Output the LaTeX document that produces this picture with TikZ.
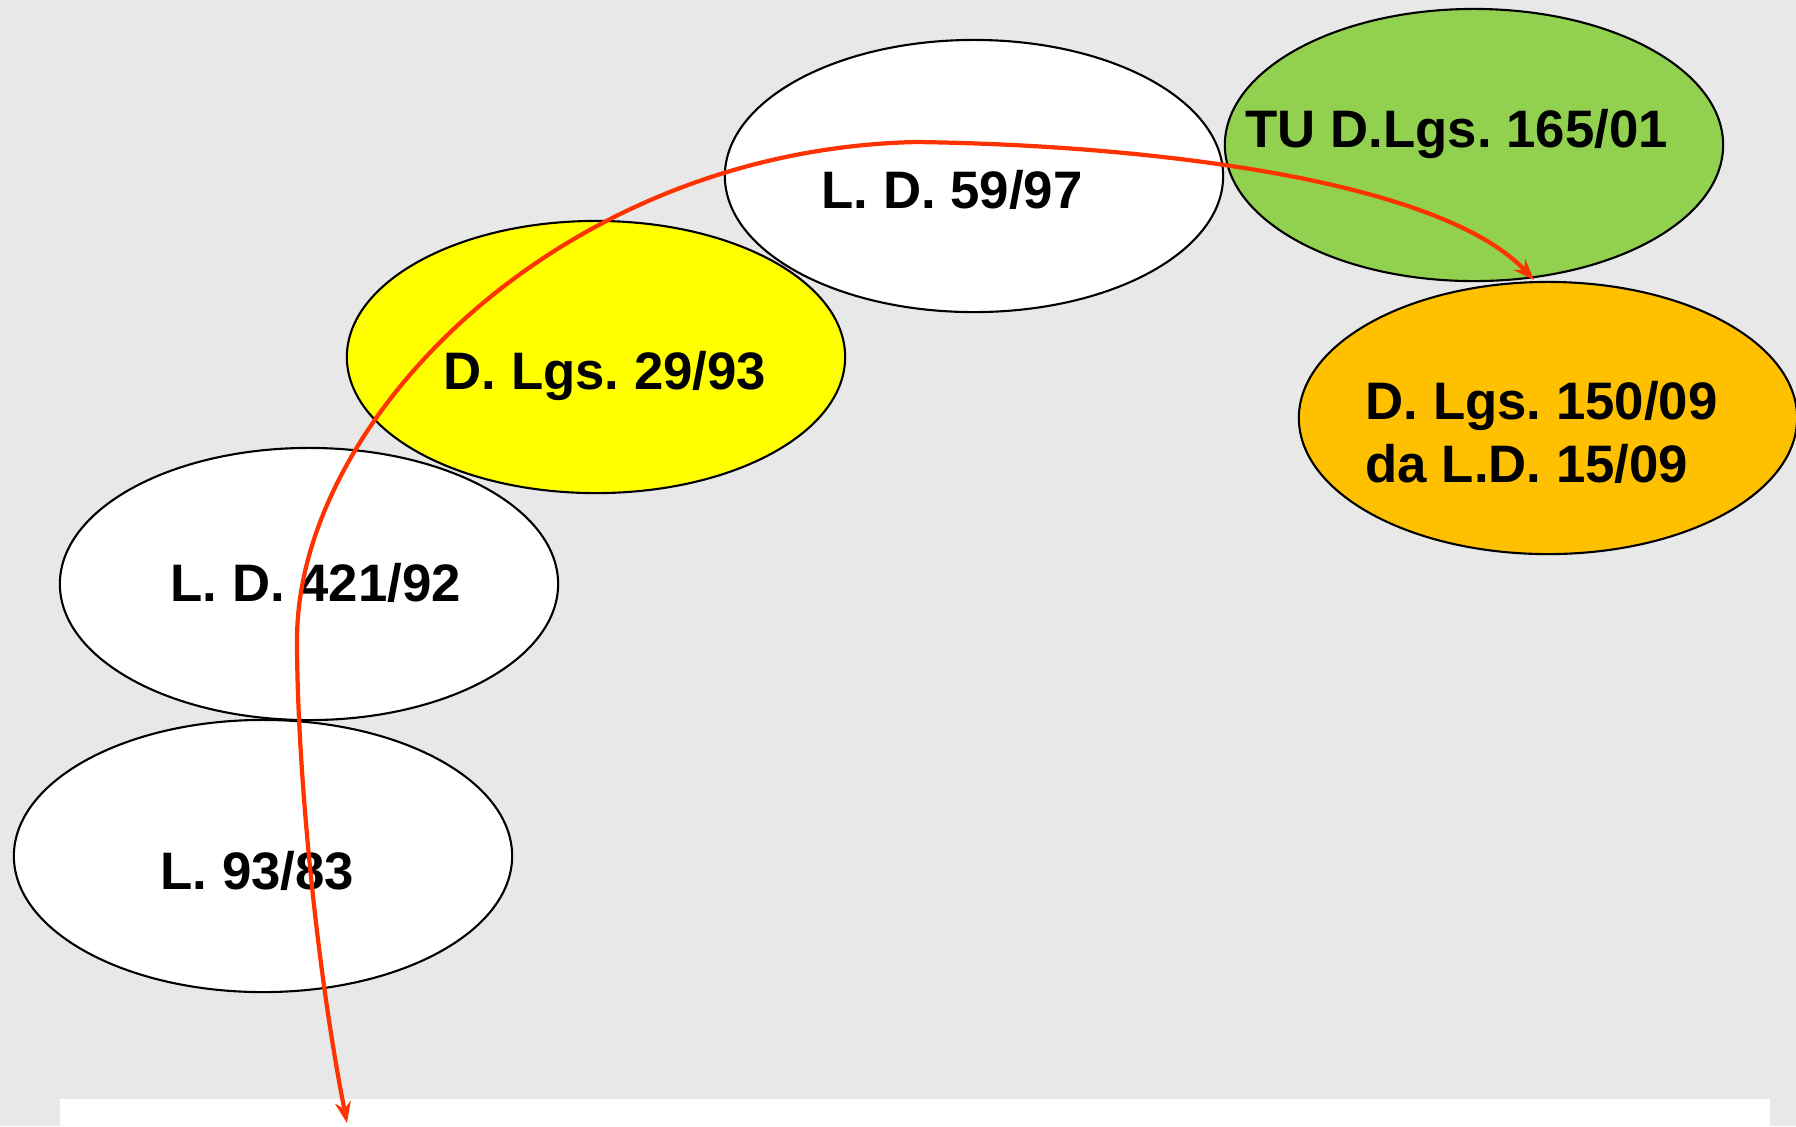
\documentclass[tikz,border=0pt]{standalone}
\usepackage{fontspec}
\setmainfont{Liberation Sans}
\usetikzlibrary{shapes.geometric,arrows.meta}
\definecolor{bggray}{RGB}{232,232,232}
\definecolor{lawgreen}{RGB}{146,208,80}
\definecolor{lawyellow}{RGB}{255,255,0}
\definecolor{laworange}{RGB}{255,192,0}
\definecolor{flowred}{RGB}{255,51,0}
\frenchspacing
\begin{document}
\begin{tikzpicture}[x=0.01cm,y=-0.01cm,
  lawell/.style={ellipse,draw=black,line width=0.6pt,minimum width=4.98cm,minimum height=2.72cm,inner sep=0pt},
  lawtext/.style={anchor=base west,inner sep=0pt,font=\fontsize{15}{18}\selectfont\bfseries},
  flow/.style={draw=flowred,line width=1.2pt,{Stealth[length=6pt,width=4.5pt]}-{Stealth[length=6pt,width=4.5pt]}}]
\fill[bggray] (0,0) rectangle (1796,1126);
\useasboundingbox (0,0) rectangle (1796,1126);
% bottom white strip
\fill[white] (60,1099) rectangle (1770,1126);
% ellipses
\node[lawell,fill=white] (e93) at (263,856) {};
\node[lawell,fill=white] (e421) at (309,584) {};
\node[lawell,fill=lawyellow] (e29) at (596,357) {};
\node[lawell,fill=white] (e59) at (974,176) {};
\node[lawell,fill=lawgreen] (e165) at (1474,145) {};
\node[lawell,fill=laworange] (e150) at (1548,418) {};
% labels
\node[lawtext] (t59) at (821,208) {L. D. 59/97};
\node[lawtext] (t165) at (1245,147) {TU D.Lgs. 165/01};
\node[lawtext] (t29) at (443,389) {D. Lgs. 29/93};
\node[lawtext] (t150a) at (1365,419) {D. Lgs. 150/09};
\node[lawtext] (t150b) at (1365,482) {da L.D. 15/09};
\node[lawtext] (t421) at (170,601) {L. D. 421/92};
\node[lawtext] (t93) at (160,889) {L. 93/83};
% flow arrow
\coordinate (tipTR) at (1534,280);
\coordinate (peak) at (916,142);
\coordinate (bend) at (297,640);
\coordinate (tipB) at (347,1123);
\draw[flow] (tipTR) .. controls (1440,180) and (1150,145) .. (peak)
  .. controls (560,150) and (297,420) .. (bend)
  .. controls (297,760) and (315,960) .. (tipB);
\end{tikzpicture}
\end{document}
